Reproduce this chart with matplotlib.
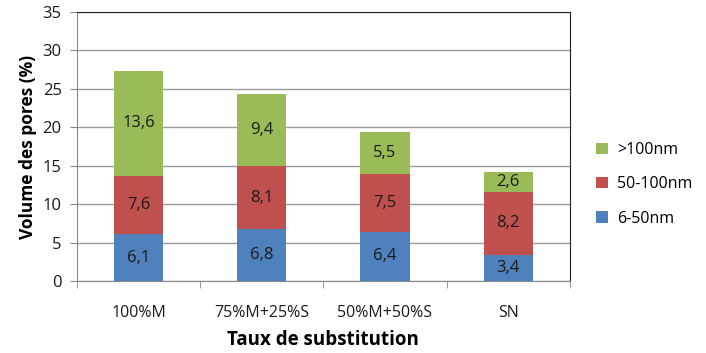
import matplotlib.pyplot as plt
import numpy as np

plt.rcParams['font.family'] = ['Open Sans', 'DejaVu Sans']

categories = ["100%M", "75%M+25%S", "50%M+50%S", "SN"]
small = [6.1, 6.8, 6.4, 3.4]     # 6-50nm
medium = [7.6, 8.1, 7.5, 8.2]    # 50-100nm
large = [13.6, 9.4, 5.5, 2.6]    # >100nm
series_names = ["6-50nm", "50-100nm", ">100nm"]
colors = ["#4F81BD", "#C0504D", "#9BBB59"]

fig = plt.figure(figsize=(7.06, 3.53), dpi=100)
ax = fig.add_axes([0.109, 0.204, 0.698, 0.762])

x = np.arange(len(categories))
bottom = np.zeros(len(categories))
for vals, name, col in zip([small, medium, large], series_names, colors):
    ax.bar(x, vals, width=0.4, bottom=bottom, color=col, label=name, zorder=3)
    for xi, v, b0 in zip(x, vals, bottom):
        ax.text(xi, b0 + v / 2, f"{v:.1f}".replace(".", ","), ha="center", va="center",
                fontsize=12, color="#1a1a1a", zorder=4)
    bottom = bottom + np.array(vals)

ax.set_ylim(0, 35)
ax.set_yticks(range(0, 36, 5))
ax.set_xlim(-0.5, 3.5)
ax.set_xticks(x)
ax.set_xticklabels(categories)
ax.set_xticks(np.arange(-0.5, 4, 1), minor=True)
ax.tick_params(axis="x", which="major", length=0, pad=17, labelsize=11.5, labelcolor="#1a1a1a")
ax.tick_params(axis="x", which="minor", length=5, color="#888888")
ax.tick_params(axis="y", length=5, color="#888888", labelsize=12, labelcolor="#1a1a1a", pad=6)

ax.yaxis.grid(True, color="#9a9a9a", linewidth=1, zorder=0)
ax.set_axisbelow(True)
for side in ["left", "bottom"]:
    ax.spines[side].set_color("#888888")
for side in ["top", "right"]:
    ax.spines[side].set_color("#222222")

ax.set_ylabel("Volume des pores (%)", fontsize=12.5, fontweight="bold", labelpad=4)
ax.set_xlabel("Taux de substitution", fontsize=13.5, fontweight="bold", labelpad=7)

handles, labels = ax.get_legend_handles_labels()
ax.legend(handles[::-1], labels[::-1], loc="center left", bbox_to_anchor=(1.025, 0.36),
          frameon=False, fontsize=11.5, handlelength=0.7, handleheight=0.7,
          labelspacing=1.15, handletextpad=0.6)

plt.savefig("out.png", dpi=100)
